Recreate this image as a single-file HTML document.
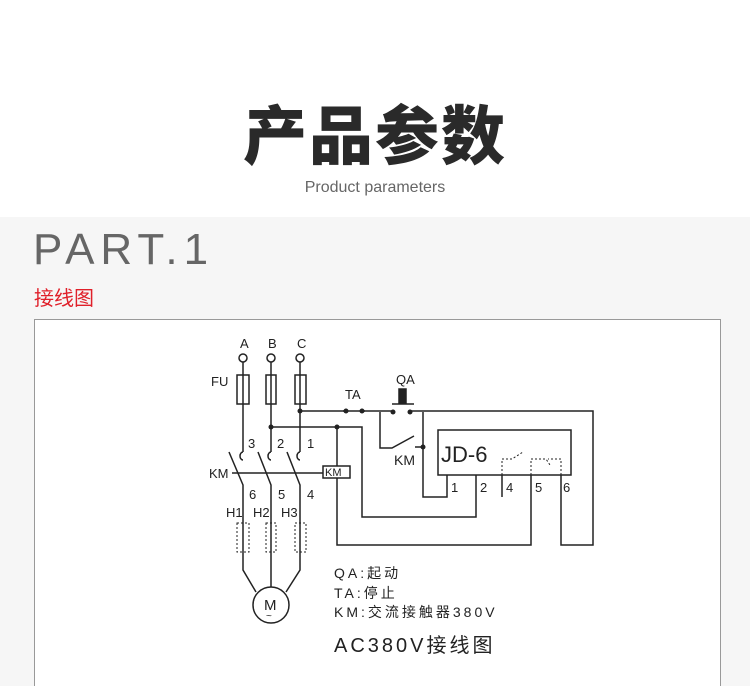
<!DOCTYPE html>
<html><head><meta charset="utf-8"><style>
html,body{margin:0;width:750px;height:686px;overflow:hidden;background:#fff;font-family:"Liberation Sans","Noto Sans CJK SC",sans-serif;position:relative}
.t{position:absolute;white-space:nowrap}
</style></head><body>
<div class="t" style="left:0;width:750px;top:92px;text-align:center;font-size:64px;font-weight:900;color:#2a2a2a;letter-spacing:2px;font-family:'Noto Sans CJK SC',sans-serif;line-height:80px">产品参数</div>
<div class="t" style="left:0;width:750px;top:179px;text-align:center;font-size:16px;color:#666">Product parameters</div>
<div style="position:absolute;left:0;top:217px;width:750px;height:469px;background:#f6f6f6"></div>
<div class="t" style="left:33px;top:226px;font-size:44px;color:#666;letter-spacing:6px;line-height:48px">PART.1</div>
<div class="t" style="left:34px;top:284px;font-size:20px;color:#e0202a;font-family:'Noto Sans CJK SC',sans-serif;line-height:26px">接线图</div>
<div style="position:absolute;left:34px;top:319px;width:685px;height:380px;background:#fff;border:1px solid #999"></div>
<svg style="position:absolute;left:0;top:0" width="750" height="686" viewBox="0 0 750 686">
<g stroke="#222" stroke-width="1.5" fill="none">
<circle cx="243" cy="358" r="4"/><circle cx="271" cy="358" r="4"/><circle cx="300" cy="358" r="4"/>
<rect x="237" y="375" width="12" height="29"/><rect x="266" y="375" width="10" height="29"/><rect x="295" y="375" width="11" height="29"/>
<path d="M243 362V452M271 362V452M300 362V452"/>
<path d="M243 452a3 4 0 0 0 0 8M271 452a3 4 0 0 0 0 8M300 452a3 4 0 0 0 0 8"/>
<path d="M229 452L243 485V570L256 592M258 452L271 485V587M287 452L300 485V570L286 592"/>
<path d="M232 473H323"/>
<rect x="323" y="466" width="27" height="12" fill="#fff"/>
<circle cx="271" cy="605" r="18"/>
<path d="M300 411H346M362 411H393M410 411H593V545H561V475"/>
<path d="M343 411h22M392 404h22"/>
<rect x="399" y="389" width="7" height="14" fill="#222"/>
<path d="M271 427H362V517H476V475"/>
<path d="M337 427V466M337 478V545H531V475"/>
<path d="M380 412V448H392L414 436M423 412V497H447V475M423 447H415"/>
<rect x="438" y="430" width="133" height="45"/>
<path d="M502 475V497"/>
</g>
<g fill="#222"><circle cx="300" cy="411" r="2.5"/><circle cx="271" cy="427" r="2.5"/><circle cx="337" cy="427" r="2.5"/><circle cx="346" cy="411" r="2.5"/><circle cx="362" cy="411" r="2.5"/><circle cx="393" cy="412" r="2.5"/><circle cx="410" cy="412" r="2.5"/><circle cx="423" cy="447" r="2.5"/></g>
<g stroke="#222" stroke-width="1" fill="none" stroke-dasharray="2 2">
<rect x="237" y="523" width="12" height="29"/><rect x="266" y="523" width="10" height="29"/><rect x="295" y="523" width="11" height="29"/>
<path d="M502 475V459H512L523 452M531 475V459H546L550 465M561 475V459H548"/>
</g>
<g font-family="Liberation Sans,sans-serif" font-size="13" fill="#222">
<text x="240" y="348">A</text><text x="268" y="348">B</text><text x="297" y="348">C</text>
<text x="211" y="386">FU</text><text x="345" y="399">TA</text><text x="396" y="384">QA</text>
<text x="248" y="448">3</text><text x="277" y="448">2</text><text x="307" y="448">1</text>
<text x="209" y="478">KM</text><text x="325" y="476" font-size="11">KM</text>
<text x="249" y="499">6</text><text x="278" y="499">5</text><text x="307" y="499">4</text>
<text x="226" y="517">H1</text><text x="253" y="517">H2</text><text x="281" y="517">H3</text>
<text x="264" y="610" font-size="15">M</text><text x="266" y="619" font-size="10">~</text>
<text x="394" y="465" font-size="14">KM</text>
<text x="441" y="462" font-size="22">JD-6</text>
<text x="451" y="492">1</text><text x="480" y="492">2</text><text x="506" y="492">4</text><text x="535" y="492">5</text><text x="563" y="492">6</text>
</g>
<g font-family="Liberation Sans,'Noto Sans CJK SC',sans-serif" fill="#222" font-size="14" letter-spacing="3">
<text x="334" y="578">QA:起动</text><text x="334" y="598">TA:停止</text><text x="334" y="617">KM:交流接触器380V</text>
<text x="334" y="652" font-size="20">AC380V接线图</text>
</g>
</svg>
</body></html>
